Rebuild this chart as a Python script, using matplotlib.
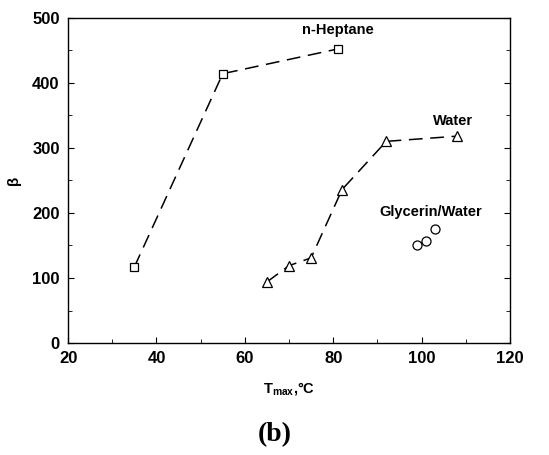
import matplotlib
matplotlib.use("Agg")
import matplotlib.pyplot as plt
from matplotlib.ticker import MultipleLocator

plt.rcParams['font.family'] = ['Liberation Sans', 'DejaVu Sans']

heptane_x = [35, 55, 81]
heptane_y = [117, 414, 452]
water_x = [65, 70, 75, 82, 92, 108]
water_y = [94, 119, 131, 236, 310, 318]
glyc_x = [99, 101, 103]
glyc_y = [150, 157, 176]

fig = plt.figure(figsize=(5.49, 4.55), dpi=100)
ax = fig.add_axes([0.124, 0.246, 0.805, 0.715])

ls = (0, (9, 5))
ax.plot(heptane_x, heptane_y, color='black', lw=1.1, linestyle=ls,
        marker='s', markersize=6, markerfacecolor='white', markeredgecolor='black', markeredgewidth=0.9)
ax.plot(water_x, water_y, color='black', lw=1.1, linestyle=ls,
        marker='^', markersize=6.5, markerfacecolor='white', markeredgecolor='black', markeredgewidth=0.9)
ax.plot(glyc_x, glyc_y, color='black', lw=1.1, linestyle=ls,
        marker='o', markersize=6.5, markerfacecolor='white', markeredgecolor='black', markeredgewidth=0.9)

ax.set_xlim(20, 120)
ax.set_ylim(0, 500)
ax.xaxis.set_major_locator(MultipleLocator(20))
ax.xaxis.set_minor_locator(MultipleLocator(10))
ax.yaxis.set_major_locator(MultipleLocator(100))
ax.yaxis.set_minor_locator(MultipleLocator(50))
ax.tick_params(which='both', direction='in', top=False, right=True, labelsize=12, pad=6)
ax.tick_params(which='major', length=4)
ax.tick_params(which='minor', length=3)
for lab in ax.get_xticklabels() + ax.get_yticklabels():
    lab.set_fontweight('bold')
for s in ax.spines.values():
    s.set_linewidth(1.0)

ax.text(81, 470, 'n-Heptane', ha='center', va='bottom', fontsize=10.5, fontweight='bold')
ax.text(107, 330, 'Water', ha='center', va='bottom', fontsize=10.5, fontweight='bold')
ax.text(102, 190, 'Glycerin/Water', ha='center', va='bottom', fontsize=10.5, fontweight='bold')

ax.set_xlabel(r'T$_{\mathregular{max}}$,°C', fontsize=10.5, fontweight='bold', labelpad=10)
ax.set_ylabel('β', fontsize=11, fontweight='bold', labelpad=8)

fig.text(0.5, 0.045, '(b)', ha='center', va='center', fontsize=20, fontweight='bold', family='Liberation Serif')

fig.savefig('out.png', dpi=100)
